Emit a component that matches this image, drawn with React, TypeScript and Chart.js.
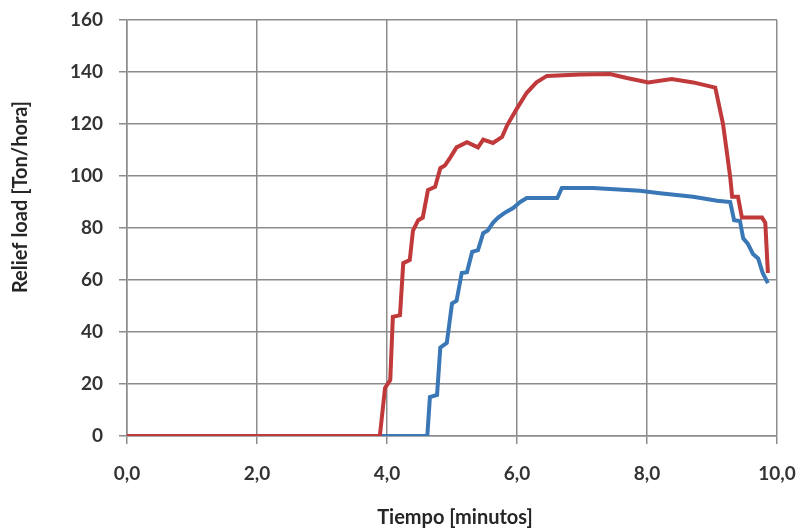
import React, { useEffect, useRef } from "react";
import { Chart, registerables } from "chart.js";

Chart.register(...registerables);

const xTitle = "Tiempo [minutos]";
const yTitle = "Relief load [Ton/hora]";

const redT = [0, 3.89, 3.97, 4.05, 4.09, 4.2, 4.25, 4.35, 4.4, 4.48, 4.55, 4.63, 4.74, 4.82, 4.89, 4.97, 5.07, 5.23, 5.4, 5.48, 5.63, 5.77, 5.85, 6.0, 6.15, 6.3, 6.46, 6.97, 7.43, 7.69, 8.02, 8.38, 8.71, 9.05, 9.17, 9.28, 9.31, 9.4, 9.46, 9.77, 9.82, 9.86];
const redV = [0, 0, 18.5, 21.5, 45.8, 46.5, 66.5, 67.7, 79, 83, 84, 94.6, 95.8, 103, 104, 107, 111, 113, 111, 114, 112.7, 115, 119.6, 126, 132, 136, 138.5, 139, 139.2, 137.7, 136, 137.3, 136, 134, 120, 99.6, 92, 92, 84, 84, 82, 62.7];

const blueT = [0, 4.62, 4.66, 4.77, 4.82, 4.92, 5.0, 5.07, 5.15, 5.23, 5.31, 5.4, 5.48, 5.55, 5.63, 5.71, 5.82, 5.94, 6.05, 6.15, 6.62, 6.69, 7.17, 7.89, 8.2, 8.71, 9.08, 9.28, 9.34, 9.43, 9.48, 9.55, 9.63, 9.71, 9.78, 9.86];
const blueV = [0, 0, 15, 15.8, 34, 35.8, 51, 52, 62.7, 63, 70.8, 71.5, 78, 79, 82, 84, 86, 87.7, 90, 91.5, 91.5, 95.4, 95.4, 94.3, 93.4, 92, 90.5, 90, 83, 82.7, 76, 74, 70, 68.3, 62.7, 58.8];

const xMin = 0, xMax = 10, xStep = 2;
const yMin = 0, yMax = 160, yStep = 20;

const toPts = (t: number[], v: number[]) => t.map((x, i) => ({ x, y: v[i] }));

export default function App() {
  const ref = useRef<HTMLCanvasElement | null>(null);
  useEffect(() => {
    if (!ref.current) return;
    const titlePlugin = {
      id: "axisTitles",
      afterDraw(chart: any) {
        const ctx = chart.ctx;
        ctx.save();
        ctx.fillStyle = "#262626";
        ctx.font = "bold 20px Lato";
        ctx.textAlign = "center";
        ctx.textBaseline = "middle";
        ctx.fillText(xTitle, 455, 518);
        ctx.translate(21, 197);
        ctx.rotate(-Math.PI / 2);
        ctx.fillText(yTitle, 0, 0);
        ctx.restore();
      },
    };
    const chart = new Chart(ref.current, {
      type: "scatter",
      data: {
        datasets: [
          {
            data: toPts(blueT, blueV),
            showLine: true,
            borderColor: "#3A77B6",
            borderWidth: 4,
            pointRadius: 0,
            tension: 0,
            order: 2,
          },
          {
            data: toPts(redT, redV),
            showLine: true,
            borderColor: "#C0393B",
            borderWidth: 4,
            pointRadius: 0,
            tension: 0,
            order: 1,
          },
        ],
      },
      options: {
        animation: false,
        responsive: false,
        layout: { padding: { left: 0, right: 25, top: 20, bottom: 0 } },
        plugins: { legend: { display: false }, tooltip: { enabled: false } },
        scales: {
          x: {
            type: "linear",
            min: xMin,
            max: xMax,
            afterFit: (s: any) => { s.height = 92; s.paddingLeft = 0; s.paddingRight = 0; },
            grid: { color: "#8c8c8c", lineWidth: 1.5, tickLength: 8 },
            border: { color: "#8c8c8c", width: 1.5 },
            ticks: {
              stepSize: xStep,
              padding: 18,
              color: "#333333",
              font: { family: "Lato", weight: "bold", size: 19 },
              callback: (v: any) => Number(v).toFixed(1).replace(".", ","),
            },
          },
          y: {
            min: yMin,
            max: yMax,
            afterFit: (s: any) => { s.width = 127; s.paddingTop = 0; s.paddingBottom = 0; },
            grid: { color: "#8c8c8c", lineWidth: 1.5, tickLength: 8 },
            border: { color: "#8c8c8c", width: 1.5 },
            ticks: {
              stepSize: yStep,
              padding: 16,
              color: "#333333",
              font: { family: "Lato", weight: "bold", size: 19 },
            },
          },
        },
      },
      plugins: [titlePlugin],
    });
    return () => chart.destroy();
  }, []);
  return (
    <div style={{ position: "fixed", left: 0, top: 0, width: 802, height: 528, background: "#fff" }}>
      <canvas ref={ref} width={802} height={528} />
    </div>
  );
}
